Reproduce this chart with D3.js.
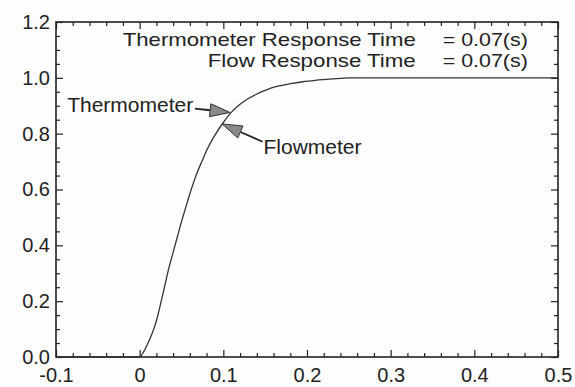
<!DOCTYPE html>
<html><head><meta charset="utf-8">
<script src="https://cdn.jsdelivr.net/npm/d3@7/dist/d3.min.js"></script>
<style>
html,body{margin:0;padding:0;background:#fdfdfd;}
svg{display:block;font-family:"Liberation Sans",Arial,Helvetica,sans-serif;}
</style></head>
<body><svg id="c" width="575" height="387"></svg>
<script>
// time (s) and normalised response (both sensors share the same curve)
const timeValues = [-0.1, 0, 0.005, 0.01, 0.015, 0.02, 0.025, 0.03, 0.035, 0.04, 0.045, 0.05, 0.055, 0.06, 0.065, 0.07, 0.075, 0.08, 0.09, 0.1, 0.11, 0.12, 0.13, 0.14, 0.15, 0.165, 0.18, 0.195, 0.21, 0.23, 0.25, 0.3, 0.4, 0.5];
const responseValues = [0, 0, 0.02, 0.05, 0.085, 0.13, 0.19, 0.255, 0.32, 0.375, 0.43, 0.485, 0.535, 0.585, 0.63, 0.67, 0.705, 0.74, 0.795, 0.84, 0.878, 0.905, 0.926, 0.942, 0.955, 0.97, 0.979, 0.986, 0.991, 0.996, 1.0, 1.0, 1.0, 1.0];
const xMajorTicks = [-0.1, 0, 0.1, 0.2, 0.3, 0.4, 0.5];
const xTickLabels = ["-0.1", "0", "0.1", "0.2", "0.3", "0.4", "0.5"];
const yMajorTicks = [0, 0.2, 0.4, 0.6, 0.8, 1.0, 1.2];
const yTickLabels = ["0.0", "0.2", "0.4", "0.6", "0.8", "1.0", "1.2"];
const infoLabels = ["Thermometer Response Time", "Flow Response Time"];
const infoValues = ["= 0.07(s)", "= 0.07(s)"];

const svg = d3.select("#c");
const m = {l:56, r:17, t:22, b:30};
const W = 575, H = 387;
const x = d3.scaleLinear().domain([-0.1, 0.5]).range([m.l, W - m.r]);
const y = d3.scaleLinear().domain([0, 1.2]).range([H - m.b, m.t]);

const xMinor = d3.range(-0.1, 0.5001, 0.02).filter(v => !xMajorTicks.some(t => Math.abs(t - v) < 1e-6));
const yMinor = d3.range(0, 1.2001, 0.05).filter(v => !yMajorTicks.some(t => Math.abs(t - v) < 1e-6));

const col = "#222";
function styleAxis(g){
  g.select(".domain").remove();
  g.selectAll("line").attr("stroke", col).attr("stroke-width", 1.2);
  g.selectAll("text").attr("fill", col).style("font-size", "20px").style("font-family", '"Liberation Sans",Arial,sans-serif');
}
// bottom axis
svg.append("g").attr("transform", `translate(0,${y(0)})`)
  .call(d3.axisBottom(x).tickValues(xMajorTicks).tickFormat((d,i)=>xTickLabels[i]).tickSizeInner(-7).tickSizeOuter(0).tickPadding(11)).call(styleAxis);
svg.append("g").attr("transform", `translate(0,${y(0)})`)
  .call(d3.axisBottom(x).tickValues(xMinor).tickFormat("").tickSizeInner(-4).tickSizeOuter(0)).call(styleAxis);
// top axis
svg.append("g").attr("transform", `translate(0,${y(1.2)})`)
  .call(d3.axisTop(x).tickValues(xMajorTicks).tickFormat("").tickSizeInner(-7).tickSizeOuter(0)).call(styleAxis);
svg.append("g").attr("transform", `translate(0,${y(1.2)})`)
  .call(d3.axisTop(x).tickValues(xMinor).tickFormat("").tickSizeInner(-4).tickSizeOuter(0)).call(styleAxis);
// left axis
svg.append("g").attr("transform", `translate(${x(-0.1)},0)`)
  .call(d3.axisLeft(y).tickValues(yMajorTicks).tickFormat((d,i)=>yTickLabels[i]).tickSizeInner(-7).tickSizeOuter(0).tickPadding(6)).call(styleAxis);
svg.append("g").attr("transform", `translate(${x(-0.1)},0)`)
  .call(d3.axisLeft(y).tickValues(yMinor).tickFormat("").tickSizeInner(-4).tickSizeOuter(0)).call(styleAxis);
// right axis
svg.append("g").attr("transform", `translate(${x(0.5)},0)`)
  .call(d3.axisRight(y).tickValues(yMajorTicks).tickFormat("").tickSizeInner(-7).tickSizeOuter(0)).call(styleAxis);
svg.append("g").attr("transform", `translate(${x(0.5)},0)`)
  .call(d3.axisRight(y).tickValues(yMinor).tickFormat("").tickSizeInner(-4).tickSizeOuter(0)).call(styleAxis);

// frame
svg.append("rect").attr("x", x(-0.1)).attr("y", y(1.2)).attr("width", x(0.5)-x(-0.1)).attr("height", y(0)-y(1.2))
  .attr("fill","none").attr("stroke", col).attr("stroke-width", 1.6);

// curve
const pts = timeValues.map((t,i)=>[t, responseValues[i]]);
svg.append("path").datum(pts)
  .attr("d", d3.line().x(d=>x(d[0])).y(d=>y(d[1])).curve(d3.curveMonotoneX))
  .attr("fill","none").attr("stroke","#333").attr("stroke-width",1.3);

// info text (stretched to the reference widths)
const fs = "19px";
function info(txt, t, v, anchor, len){
  svg.append("text").attr("x", x(t)).attr("y", y(v)).attr("text-anchor", anchor)
    .attr("textLength", len).attr("lengthAdjust", "spacingAndGlyphs")
    .style("font-size", fs).attr("fill", col).text(txt);
}
info(infoLabels[0], 0.33, 1.114, "end", 293);
info(infoLabels[1], 0.33, 1.039, "end", 208);
info(infoValues[0], 0.3623, 1.114, "start", 85);
info(infoValues[1], 0.3623, 1.039, "start", 85);

// annotation arrows (data coordinates)
function arrow(tail, tip){
  const x0=x(tail[0]), y0=y(tail[1]), x1=x(tip[0]), y1=y(tip[1]);
  const a = Math.atan2(y1-y0, x1-x0);
  const L = 20, w = 6.5;
  const bx = x1 - L*Math.cos(a), by = y1 - L*Math.sin(a);
  svg.append("line").attr("x1",x0).attr("y1",y0).attr("x2",bx).attr("y2",by).attr("stroke","#222").attr("stroke-width",1.8);
  const p = [[x1,y1],[bx - w*Math.sin(a), by + w*Math.cos(a)],[bx + w*Math.sin(a), by - w*Math.cos(a)]];
  svg.append("path").attr("d","M"+p.map(q=>q.join(",")).join("L")+"Z").attr("fill","#8a8a8a").attr("stroke","#333").attr("stroke-width",1);
}
svg.append("text").attr("x", x(0.064)).attr("y", y(0.877)).attr("text-anchor","end").style("font-size","21px").attr("fill",col).text("Thermometer");
arrow([0.066, 0.89], [0.108, 0.876]);
svg.append("text").attr("x", x(0.148)).attr("y", y(0.7286)).style("font-size","21px").attr("fill",col).text("Flowmeter");
arrow([0.147, 0.771], [0.0985, 0.835]);
</script></body></html>
